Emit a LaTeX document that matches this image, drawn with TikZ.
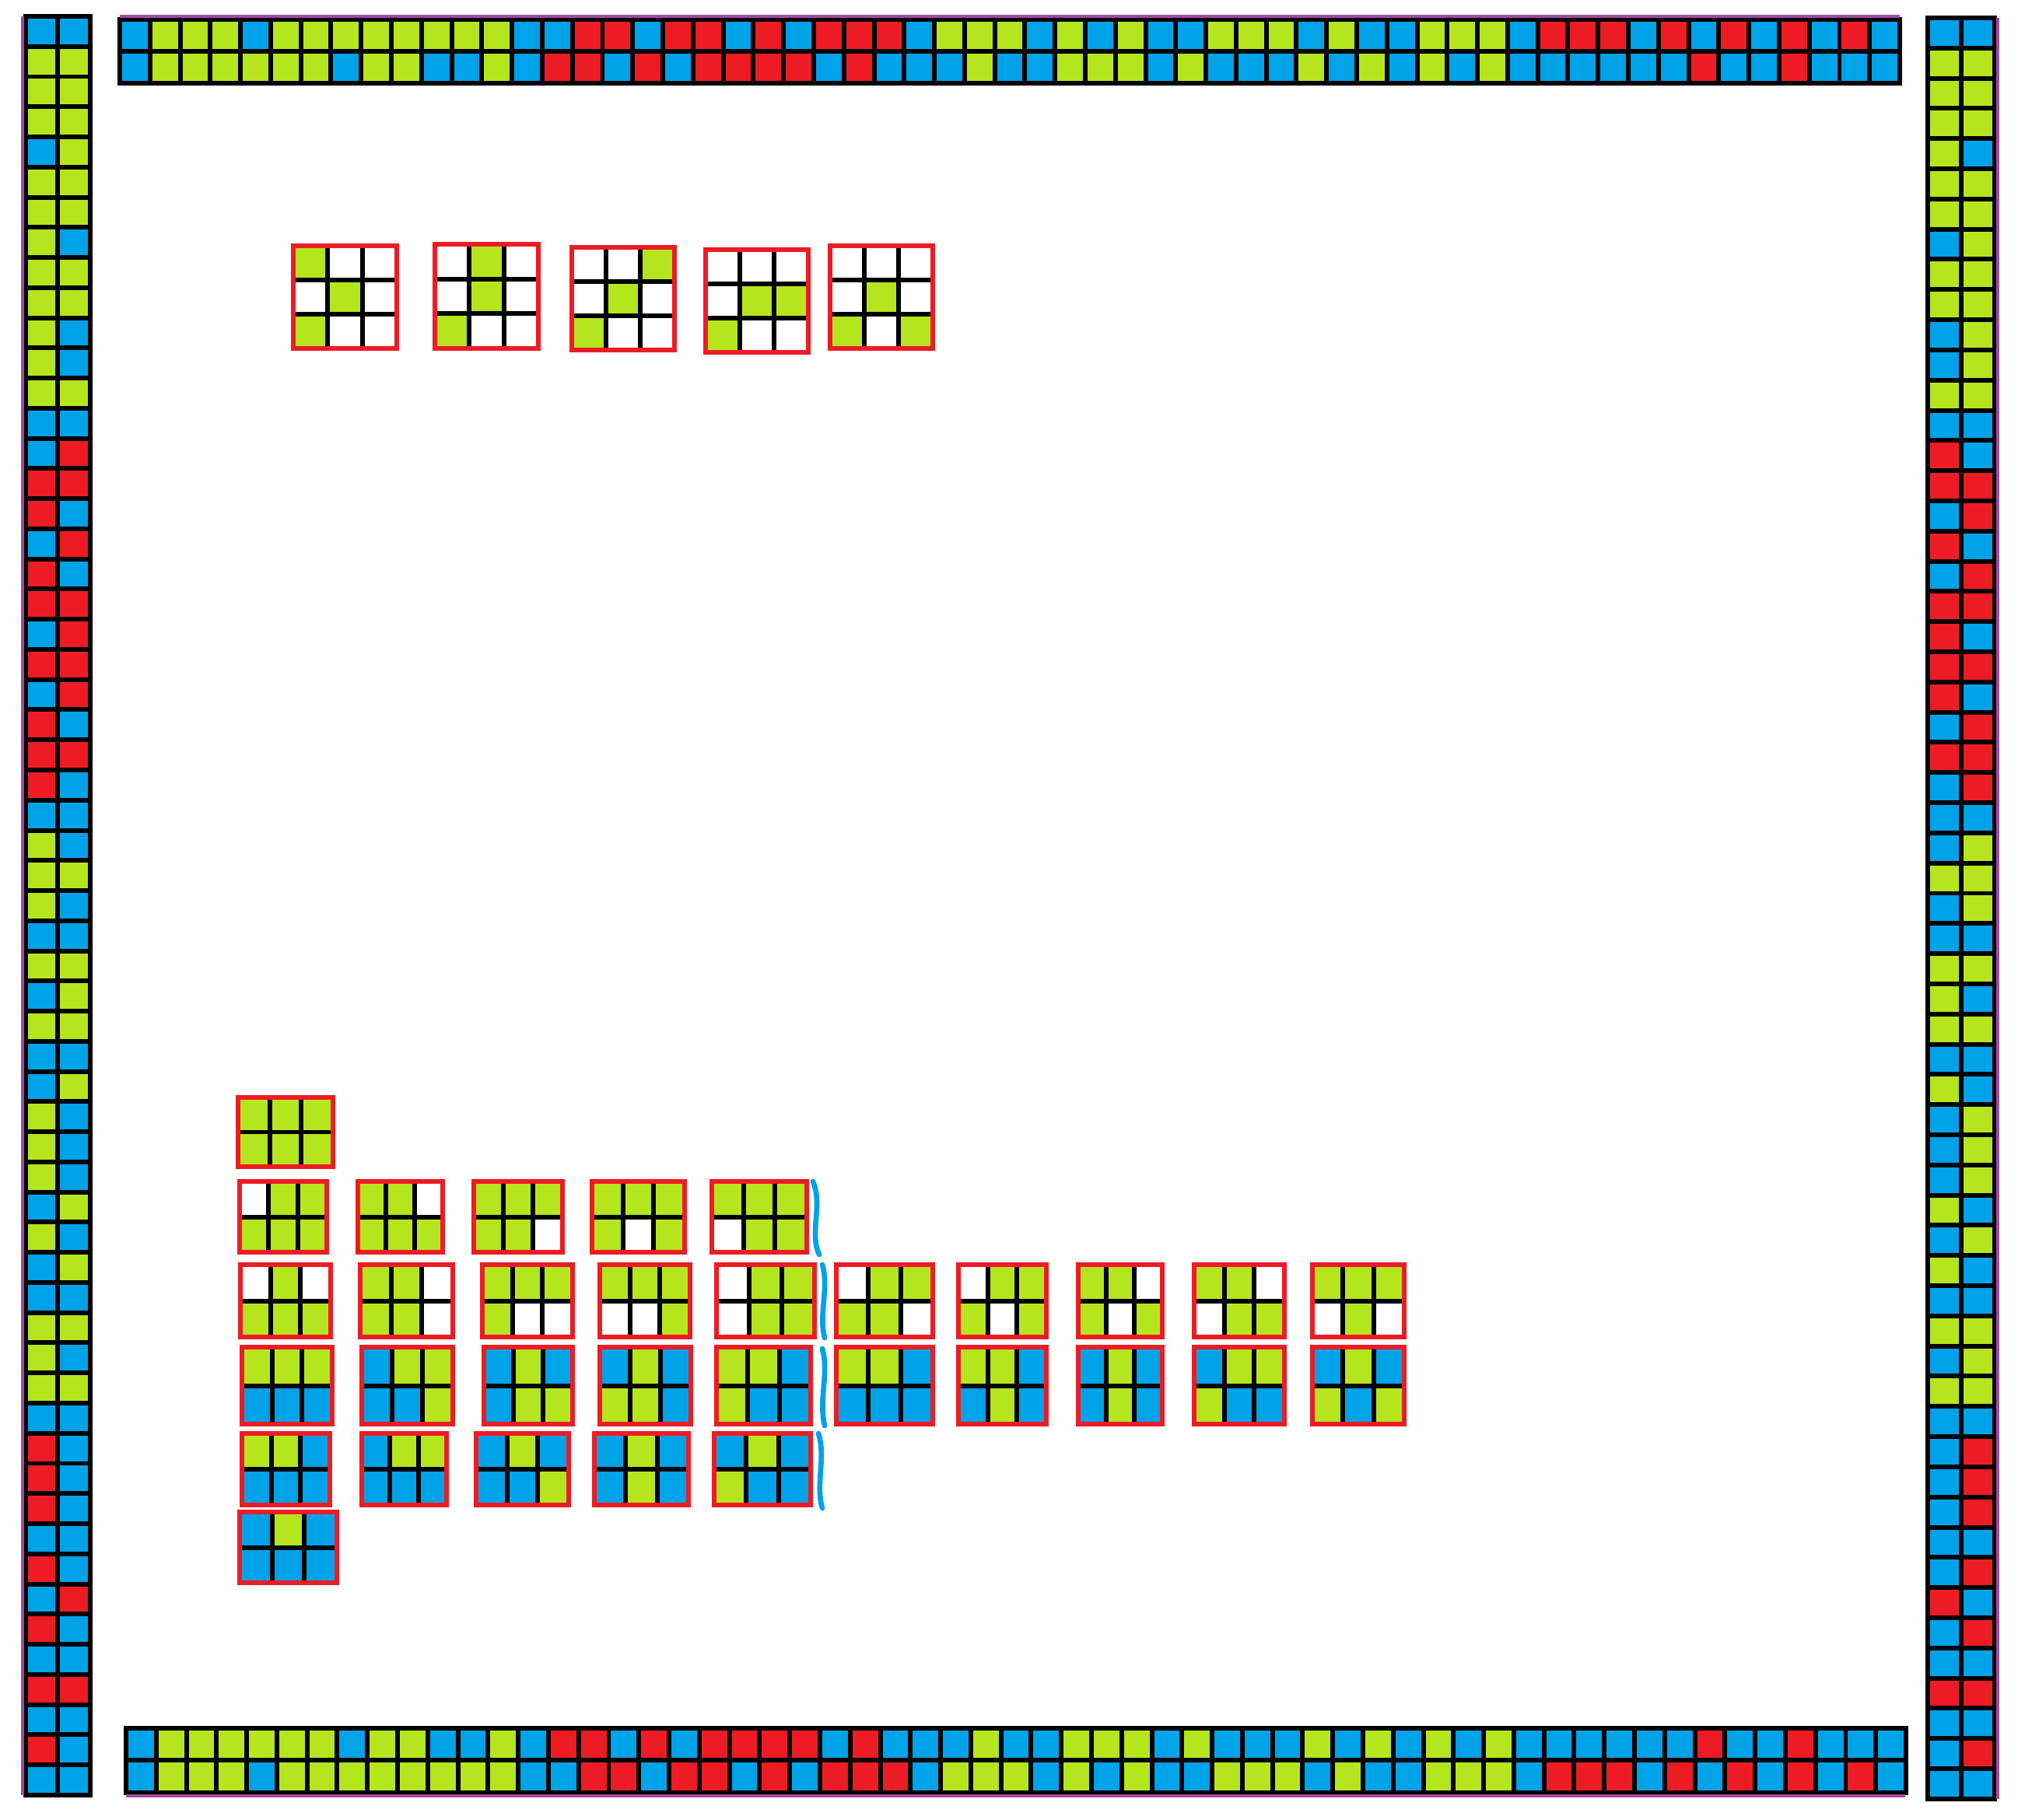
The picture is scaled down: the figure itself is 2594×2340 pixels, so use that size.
\documentclass[tikz,border=0pt]{standalone}
\usetikzlibrary{calc}
\usepackage{xcolor}
\definecolor{cB}{RGB}{0,162,232}
\definecolor{cG}{RGB}{181,230,29}
\definecolor{cR}{RGB}{237,28,36}
\definecolor{cW}{RGB}{255,255,255}
\definecolor{cP}{RGB}{163,73,164}

% outer/inner colour of every border cell, same run on all four sides
\def\borderseq{B/B,G/G,G/G,G/G,B/G,G/G,G/G,G/B,G/G,G/G,G/B,G/B,G/G,B/B,B/R,R/R,R/B,B/R,R/B,R/R,B/R,R/R,B/R,R/B,R/R,R/B,B/B,G/B,G/G,G/B,B/B,G/G,B/G,G/G,B/B,B/G,G/B,G/B,G/B,B/G,G/B,B/G,B/B,G/G,G/B,G/G,B/B,R/B,R/B,R/B,B/B,R/B,B/R,R/B,B/B,R/R,B/B,R/B,B/B}

% x0 y0 x1 y1 cols rows colours
\newcommand{\pgrid}[7]{%
  \pgfmathsetmacro\cellw{(#3-#1)/#5}%
  \pgfmathsetmacro\cellh{(#4-#2)/#6}%
  \foreach \c [count=\i from 0] in {#7} {
    \pgfmathtruncatemacro\cc{mod(\i,#5)}
    \pgfmathtruncatemacro\rr{floor(\i/#5)}
    \draw[cell, fill=c\c] (#1+\cc*\cellw, #2+\rr*\cellh) rectangle ++(\cellw,\cellh);
  }
  \draw[redrim] (#1,#2) rectangle (#3,#4);
}

\begin{document}
\begin{tikzpicture}[x=0.01cm, y=-0.01cm,
  cell/.style={draw=black, line width=1.7pt},
  redrim/.style={draw=cR, line width=1.6pt},
  rim/.style={cP, line width=1.4pt},
  brace/.style={cB, line width=1.9pt, line cap=round}
]
\useasboundingbox (0,0) rectangle (2594,2340);

% borders
\foreach \o/\n [count=\k from 0] in \borderseq {
  \draw[cell, fill=c\o] (154+\k*38.78,25) rectangle ++(38.78,41);
  \draw[cell, fill=c\n] (154+\k*38.78,66) rectangle ++(38.78,41);
  \draw[cell, fill=c\o] (33,21+\k*38.76) rectangle ++(41,38.76);
  \draw[cell, fill=c\n] (74,21+\k*38.76) rectangle ++(42,38.76);
  \draw[cell, fill=c\n] (2478,23+\k*38.81) rectangle ++(43,38.81);
  \draw[cell, fill=c\o] (2521,23+\k*38.81) rectangle ++(43,38.81);
  \draw[cell, fill=c\n] (162+\k*38.78,2222) rectangle ++(38.78,41);
  \draw[cell, fill=c\o] (162+\k*38.78,2263) rectangle ++(38.78,42);
}
\draw[rim] (154,21) -- (2442,21);
\draw[rim] (29,21) -- (29,2308);
\draw[rim] (2568,23) -- (2568,2313);
\draw[rim] (162,2309) -- (2449,2309);

% 3x3 grids
\pgrid{377}{316}{510}{448}{3}{3}{G,W,W,W,G,W,G,W,W}
\pgrid{559}{314}{692}{448}{3}{3}{W,G,W,W,G,W,G,W,W}
\pgrid{735}{318}{867}{450}{3}{3}{W,W,G,W,G,W,G,W,W}
\pgrid{907}{321}{1039}{453}{3}{3}{W,W,W,W,G,G,G,W,W}
\pgrid{1067}{316}{1199}{448}{3}{3}{W,W,W,W,G,W,G,W,G}

% 2x3 grids
\pgrid{306}{1411}{428}{1500}{3}{2}{G,G,G,G,G,G}

\pgrid{308}{1519}{420}{1610}{3}{2}{W,G,G,G,G,G}
\pgrid{460}{1519}{569}{1610}{3}{2}{G,G,W,G,G,G}
\pgrid{609}{1519}{723}{1610}{3}{2}{G,G,G,G,G,W}
\pgrid{761}{1519}{880}{1610}{3}{2}{G,G,G,G,W,G}
\pgrid{915}{1519}{1037}{1610}{3}{2}{G,G,G,W,G,G}

\pgrid{309}{1626}{425}{1719}{3}{2}{W,G,W,G,G,G}
\pgrid{463}{1626}{582}{1719}{3}{2}{G,G,W,G,G,W}
\pgrid{620}{1626}{736}{1719}{3}{2}{G,G,G,G,W,W}
\pgrid{771}{1626}{887}{1719}{3}{2}{G,G,G,W,W,G}
\pgrid{921}{1626}{1047}{1719}{3}{2}{W,G,G,W,G,G}
\pgrid{1075}{1626}{1199}{1719}{3}{2}{W,G,G,G,G,W}
\pgrid{1232}{1626}{1345}{1719}{3}{2}{W,G,G,G,W,G}
\pgrid{1386}{1626}{1494}{1719}{3}{2}{G,G,W,G,W,G}
\pgrid{1535}{1626}{1651}{1719}{3}{2}{G,G,W,W,G,G}
\pgrid{1687}{1626}{1805}{1719}{3}{2}{G,G,G,W,G,W}

\pgrid{311}{1732}{427}{1831}{3}{2}{G,G,G,B,B,B}
\pgrid{465}{1732}{582}{1831}{3}{2}{B,G,G,B,B,G}
\pgrid{622}{1732}{736}{1831}{3}{2}{B,G,B,B,G,G}
\pgrid{771}{1732}{888}{1831}{3}{2}{B,G,B,G,G,B}
\pgrid{921}{1732}{1042}{1831}{3}{2}{G,G,B,G,B,B}
\pgrid{1075}{1732}{1199}{1831}{3}{2}{G,G,B,B,B,B}
\pgrid{1232}{1732}{1345}{1831}{3}{2}{G,G,B,B,G,B}
\pgrid{1386}{1732}{1494}{1831}{3}{2}{B,G,B,B,G,B}
\pgrid{1535}{1732}{1651}{1831}{3}{2}{B,G,G,G,B,B}
\pgrid{1687}{1732}{1805}{1831}{3}{2}{B,G,B,G,B,G}

\pgrid{311}{1843}{424}{1935}{3}{2}{G,G,B,B,B,B}
\pgrid{465}{1843}{574}{1935}{3}{2}{B,G,G,B,B,B}
\pgrid{612}{1843}{731}{1935}{3}{2}{B,G,B,B,B,G}
\pgrid{764}{1843}{885}{1935}{3}{2}{B,G,B,B,G,B}
\pgrid{918}{1843}{1042}{1935}{3}{2}{B,G,B,G,B,B}

\pgrid{308}{1944}{433}{2035}{3}{2}{B,G,B,B,B,B}

% blue marks
\draw[brace] (1045,1519) .. controls (1058,1550) and (1040,1585) .. (1053,1613);
\draw[brace] (1057,1626) .. controls (1066,1655) and (1052,1690) .. (1060,1720);
\draw[brace] (1057,1734) .. controls (1066,1765) and (1052,1800) .. (1060,1833);
\draw[brace] (1052,1843) .. controls (1062,1873) and (1048,1908) .. (1057,1939);
\end{tikzpicture}
\end{document}
